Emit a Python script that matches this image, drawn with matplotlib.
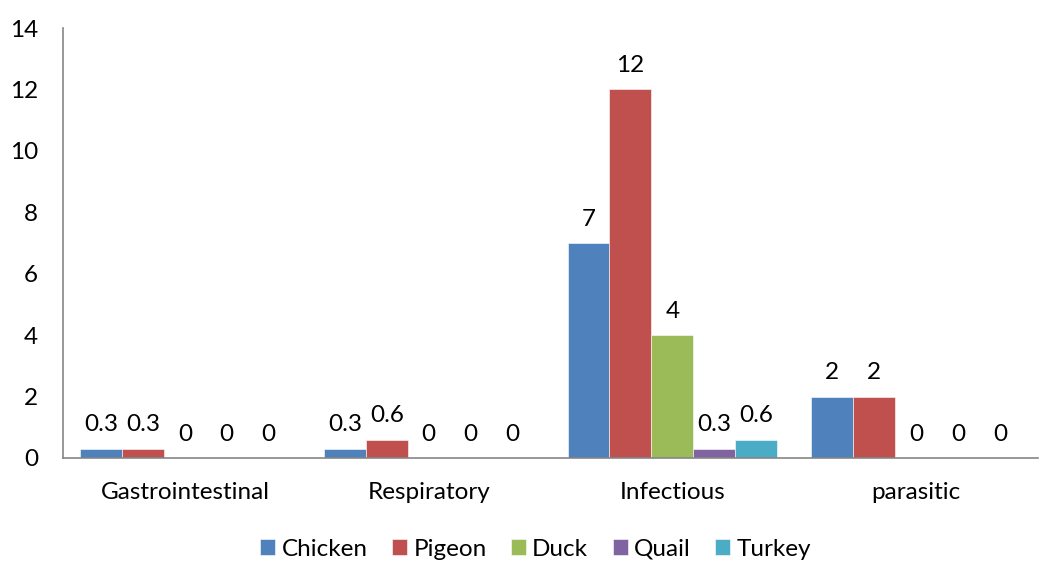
import matplotlib
matplotlib.use("Agg")
import matplotlib.pyplot as plt
import numpy as np

plt.rcParams['font.family'] = ['Lato', 'DejaVu Sans']

categories = ["Gastrointestinal", "Respiratory", "Infectious", "parasitic"]
series_names = ["Chicken", "Pigeon", "Duck", "Quail", "Turkey"]
chicken = [0.3, 0.3, 7, 2]
pigeon = [0.3, 0.6, 12, 2]
duck = [0, 0, 4, 0]
quail = [0, 0, 0.3, 0]
turkey = [0, 0, 0.6, 0]
series_values = [chicken, pigeon, duck, quail, turkey]
colors = ["#4F81BD", "#C0504D", "#9BBB59", "#8064A2", "#4BACC6"]
yticks = [0, 2, 4, 6, 8, 10, 12, 14]

FS = 17.5
W, H = 1048, 563
fig = plt.figure(figsize=(W / 100, H / 100), dpi=100)
ax = fig.add_axes([63 / W, 105 / H, (1038 - 63) / W, (458 - 28) / H])

x = np.arange(len(categories))
bw = 0.172
for i, (name, vals, c) in enumerate(zip(series_names, series_values, colors)):
    pos = x + (i - 2) * bw
    ax.bar(pos, vals, width=bw, color=c, label=name,
           edgecolor="white", linewidth=0.4)
    for xp, v in zip(pos, vals):
        ax.annotate(f"{v:g}", (xp, v), xytext=(0, 12.5), textcoords="offset points",
                    ha="center", va="baseline", fontsize=FS, color="black")

ax.set_xlim(-0.5, len(categories) - 0.5)
ax.set_ylim(0, 14)
ax.set_yticks(yticks)
ax.set_xticks(x)
ax.set_xticklabels(categories, fontsize=FS)
ax.tick_params(axis="both", length=0, labelsize=FS)
ax.tick_params(axis="x", pad=17.5)
ax.tick_params(axis="y", pad=18)
for s in ["top", "right"]:
    ax.spines[s].set_visible(False)
for s in ["left", "bottom"]:
    ax.spines[s].set_color("#868686")
    ax.spines[s].set_linewidth(1.2)

fig.legend(loc="center", bbox_to_anchor=(535.5 / W, 1 - 549 / H), ncol=5, frameon=False,
           fontsize=FS, handlelength=0.62, handleheight=0.62, handletextpad=0.26,
           columnspacing=1.0, borderpad=0)

fig.savefig("out.png", dpi=100)
